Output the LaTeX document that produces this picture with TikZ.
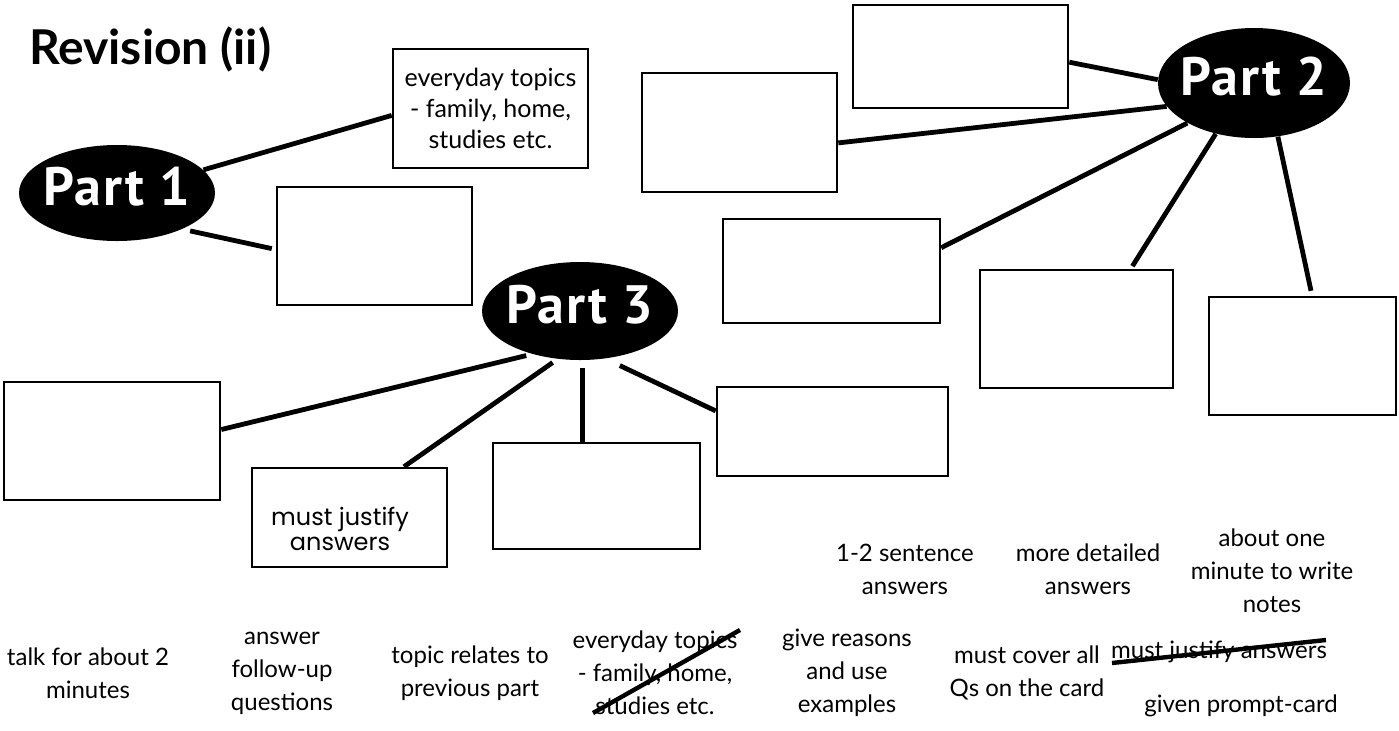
\documentclass[tikz,border=0pt]{standalone}
\usepackage{fontspec}
\setmainfont{Lato}
\newfontfamily\partfont{PT Sans}[LetterSpace=3]
\newfontfamily\roundfont{Poppins}
\usetikzlibrary{shapes.geometric}

\begin{document}
\begin{tikzpicture}[x=0.5pt,y=0.5pt,yscale=-1,
  card/.style={draw, line width=1.3pt, inner sep=0pt, align=center},
  part/.style={ellipse, fill=black, text=white, inner ysep=0pt, inner xsep=-10pt, text depth=7pt, font=\partfont\bfseries\fontsize{27}{30}\selectfont},
  link/.style={line width=2.4pt},
  cue/.style={align=center, font=\fontsize{12}{16.5}\selectfont},
  strike/.style={line width=2.2pt}]
%set diagram to the 1399 x 730 page
\useasboundingbox (0,0) rectangle (1399,730);

% Text Node
\node [anchor=base west, font=\bfseries\fontsize{24}{28}\selectfont] (title) at (22,64) {Revision (ii)};

%Shape: Ellipse
\node [part, minimum width=98pt, minimum height=48pt] (p1) at (117,193) {Part 1};
\node [part, minimum width=96pt, minimum height=55pt] (p2) at (1254,83) {Part 2};
\node [part, minimum width=98pt, minimum height=49pt] (p3) at (580,311) {Part 3};

%Shape: Rectangle
\node [card, minimum width=97.5pt, minimum height=59.5pt, font=\fontsize{12.5}{15.5}\selectfont] (ev) at (490.5,108.5) {everyday topics\\- family, home,\\studies etc.};
\node [card, minimum width=97.5pt, minimum height=59pt] (b1) at (374.5,246) {};
\node [card, minimum width=108pt, minimum height=59pt] (bL) at (112,441) {};
\node [card, minimum width=97.5pt, minimum height=49.5pt] (jb) at (349.5,517.5) {};
\node [card, minimum width=103.5pt, minimum height=53pt] (bM) at (596.5,496) {};
\node [card, minimum width=115.5pt, minimum height=44.5pt] (bR) at (832.5,431.5) {};
\node [card, minimum width=107.5pt, minimum height=51.5pt] (bT) at (960.5,56.5) {};
\node [card, minimum width=97.5pt, minimum height=59.5pt] (bLe) at (739.5,132.5) {};
\node [card, minimum width=108.5pt, minimum height=52pt] (bMi) at (831.5,271) {};
\node [card, minimum width=96.5pt, minimum height=59pt] (bA) at (1076.5,329) {};
\node [card, minimum width=93.5pt, minimum height=59pt] (bB) at (1302.5,356) {};

% Text Node
\node [align=center, font=\roundfont\fontsize{12}{12.5}\selectfont] (jt) at (340,529) {must justify\\answers};

%Straight Lines
\draw [link] (p1.15) -- (ev.184);
\draw [link, shorten <=4pt, shorten >=2pt] (p1.-29) -- (b1.182);
\draw [link, shorten <=3pt] (p3.222) -- (bL.6);
\draw [link, shorten <=3pt] (p3.245) -- (jb.43);
\draw [link, shorten <=4pt] (p3.-87) -- (p3.-87 |- bM.north);
\draw [link, shorten <=8pt] (p3.-62) -- (bR.170);
\draw [link] (p2.178) -- (bT.-3);
\draw [link] (p2.195) -- (bLe.-6);
\draw [link] (p2.211) -- (bMi.12);
\draw [link, shorten >=1.5pt] (p2.233) -- (bA.48);
\draw [link, shorten >=2.5pt] (p2.-66) -- (bB.81);

% Text Node
\node [cue] (c1) at (905,569) {1-2 sentence\\answers};
\node [cue] (c2) at (1088,569) {more detailed\\answers};
\node [cue] (c3) at (1272,571) {about one\\minute to write\\notes};
\node [cue] (c4) at (88,673) {talk for about 2\\minutes};
\node [cue] (c5) at (282,673) {answer\\follow-up\\questions};
\node [cue] (c6) at (470,673) {topic relates to\\previous part};
\node [cue] (c7) at (655,673) {everyday topics\\- family, home,\\studies etc.};
\node [cue] (c8) at (847,673) {give reasons\\and use\\examples};
\node [cue] (c9) at (1027,673) {must cover all\\Qs on the card};
\node [cue] (c10) at (1219,652) {must justify answers};
\node [cue] (c11) at (1241,706) {given prompt-card};

%Straight Lines
\draw [strike] (593,713) -- (740,630);
\draw [strike] (1112,663) -- (1326,640);

\end{tikzpicture}
\end{document}
